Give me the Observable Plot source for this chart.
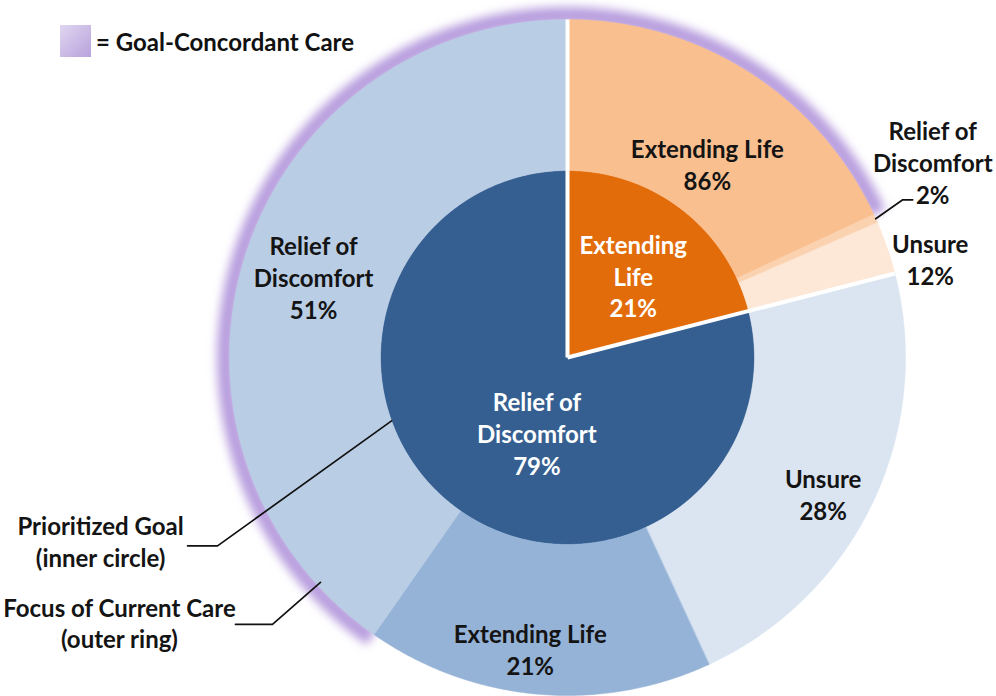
<!DOCTYPE html>
<html>
<head>
<meta charset="utf-8">
<script src="https://cdn.jsdelivr.net/npm/d3@7"></script>
<script src="https://cdn.jsdelivr.net/npm/@observablehq/plot@0.6"></script>
<style>
  html, body { margin: 0; padding: 0; background: #fff; }
  #wrap { position: relative; width: 996px; height: 696px; font-family: Lato, "Open Sans", sans-serif; }
  #legend { position: absolute; left: 60px; top: 25px; display: flex; align-items: center; font-weight: 700; font-size: 24px; color: #111; z-index: 2; }
  #legend .sw { width: 31px; height: 32px; background: linear-gradient(135deg, #e0d6f0, #b8a2dc); margin-right: 5px; }
  svg { display: block; }
</style>
</head>
<body>
<div id="wrap">
  <div id="legend"><span class="sw"></span><span>= Goal-Concordant Care</span></div>
</div>
<script>
// ---------------- data ----------------
const innerGoals  = ["Extending Life", "Relief of Discomfort"];   // prioritized goal (inner circle)
const innerShares = [21, 79];                                      // % of patients

const outerGoal   = ["Extending Life", "Extending Life", "Extending Life",
                     "Relief of Discomfort", "Relief of Discomfort", "Relief of Discomfort"];
const outerFocus  = ["Extending Life", "Relief of Discomfort", "Unsure",
                     "Unsure", "Extending Life", "Relief of Discomfort"];   // focus of current care (outer ring)
const outerShares = [86, 2, 12, 28, 21, 51];                        // % within prioritized goal

const legendLabel = "= Goal-Concordant Care";
const noteGoal  = "Prioritized Goal\n(inner circle)";
const noteFocus = "Focus of Current Care\n(outer ring)";

// ---------------- styles / layout ----------------
const innerColor = {"Extending Life": "#e36c0a", "Relief of Discomfort": "#365f91"};
const outerColor = {
  "Extending Life|Extending Life": "#fabf8f",
  "Extending Life|Relief of Discomfort": "#fbd2b0",
  "Extending Life|Unsure": "#fde7d6",
  "Relief of Discomfort|Unsure": "#dbe5f1",
  "Relief of Discomfort|Extending Life": "#95b3d7",
  "Relief of Discomfort|Relief of Discomfort": "#b9cde5"
};
const R_IN = 187, R_OUT = 338;
const FONT = "Lato, 'Open Sans', sans-serif";

const rad = a => a * Math.PI / 180;
const pol = (a, r) => [r * Math.sin(rad(a)), r * Math.cos(rad(a))];

// angles (degrees clockwise from 12 o'clock)
const inner = [];
{
  let acc = 0;
  innerGoals.forEach((g, i) => {
    const span = innerShares[i] / 100 * 360;
    inner.push({goal: g, share: innerShares[i], a0: acc, a1: acc + span});
    acc += span;
  });
}
const outer = [];
{
  const acc = {};
  outerGoal.forEach((g, i) => {
    const parent = inner.find(d => d.goal === g);
    const start = acc[g] ?? parent.a0;
    const span = (parent.a1 - parent.a0) * outerShares[i] / 100;
    outer.push({goal: g, focus: outerFocus[i], share: outerShares[i], a0: start, a1: start + span,
                concordant: g === outerFocus[i]});
    acc[g] = start + span;
  });
}

function arcPoly(id, a0, a1, r0, r1, color) {
  const n = Math.max(2, Math.ceil((a1 - a0) / 0.4) + 1);
  const pts = [];
  for (let i = 0; i < n; i++) { const [x, y] = pol(a0 + (a1 - a0) * i / (n - 1), r1); pts.push({id, x, y, color}); }
  if (r0 === 0) pts.push({id, x: 0, y: 0, color});
  else for (let i = n - 1; i >= 0; i--) { const [x, y] = pol(a0 + (a1 - a0) * i / (n - 1), r0); pts.push({id, x, y, color}); }
  return pts;
}
function arcLine(id, a0, a1, r) {
  const n = Math.max(2, Math.ceil((a1 - a0) / 0.4) + 1);
  return d3.range(n).map(i => { const [x, y] = pol(a0 + (a1 - a0) * i / (n - 1), r); return {id, x, y}; });
}

const slices = [
  ...inner.flatMap((d, i) => arcPoly("in" + i, d.a0, d.a1, 0, R_IN, innerColor[d.goal])),
  ...outer.flatMap((d, i) => arcPoly("out" + i, d.a0, d.a1, R_IN, R_OUT, outerColor[d.goal + "|" + d.focus]))
];
const glow = outer.filter(d => d.concordant).flatMap((d, i) => arcLine("g" + i, d.a0, d.a1, R_OUT + 4));
const separators = inner.map(d => { const [x2, y2] = pol(d.a0, R_OUT); return {x1: 0, y1: 0, x2, y2}; });

// label text + placement nudges (pixels)
const wrapName = (name, ring) =>
  name === "Relief of Discomfort" ? "Relief of\nDiscomfort" : (ring === "in" ? name.replace(" ", "\n") : name);
const nudge = {
  "in|Extending Life": {r: 104, dx: 2, dy: 0},
  "in|Relief of Discomfort": {r: 94, dx: 27, dy: 1},
  "out|Extending Life|Extending Life": {r: 262, dx: -1, dy: 27},
  "out|Extending Life|Relief of Discomfort": {r: R_OUT, dx: 57, dy: -57},
  "out|Extending Life|Unsure": {r: R_OUT, dx: 43, dy: 11},
  "out|Relief of Discomfort|Unsure": {r: 262, dx: 19, dy: 24},
  "out|Relief of Discomfort|Extending Life": {r: 262, dx: -14, dy: 30},
  "out|Relief of Discomfort|Relief of Discomfort": {r: 262, dx: -4, dy: -2}
};
function place(a, nd) { const [x, y] = pol(a, nd.r); return {x: x + nd.dx, y: y - nd.dy}; }
const innerLabels = inner.map(d => ({...place((d.a0 + d.a1) / 2, nudge["in|" + d.goal]),
  text: wrapName(d.goal, "in") + "\n" + d.share + "%"}));
const outerLabels = outer.map(d => ({...place((d.a0 + d.a1) / 2, nudge["out|" + d.goal + "|" + d.focus]),
  text: wrapName(d.focus, "out") + "\n" + d.share + "%"}));

// annotation leaders: tip on the chart + offsets in pixels (dx right, dy down)
const rd2 = outer[1];
const notes = [
  {id: "goal", text: noteGoal, tip: pol(250.2, R_IN), elbow: [-174, 125], end: [-204, 125], label: [-291, 120]},
  {id: "focus", text: noteFocus, tip: pol(227.7, R_OUT - 4), elbow: [-48, 42], end: [-85, 42], label: [-201, 40]},
  {id: "rd2", text: null, tip: pol((rd2.a0 + rd2.a1) / 2, R_OUT), elbow: [27, -19], end: [37, -19], label: null}
];
const off = (tip, o) => ({x: tip[0] + o[0], y: tip[1] - o[1]});
const leaders = notes.flatMap(n => [
  {id: n.id, x: n.tip[0], y: n.tip[1]},
  {id: n.id, ...off(n.tip, n.elbow)},
  {id: n.id, ...off(n.tip, n.end)}
]);
const noteLabels = notes.filter(n => n.text).map(n => ({...off(n.tip, n.label), text: n.text}));

const textOpts = {x: "x", y: "y", text: "text", fontSize: 24, fontWeight: 700, fontFamily: FONT,
                  lineHeight: 1.33, lineAnchor: "middle", textAnchor: "middle"};

const chart = Plot.plot({
  width: 996, height: 696, margin: 0,
  x: {domain: [-567, 429], axis: null},
  y: {domain: [-339, 357], axis: null},
  color: {type: "identity"},
  style: {background: "transparent"},
  marks: [
    Plot.line(glow, {x: "x", y: "y", z: "id", stroke: "#b89ede", strokeWidth: 17, strokeLinecap: "butt"}),
    Plot.line(slices, {x: "x", y: "y", z: "id", fill: "color", stroke: "color", strokeWidth: 0.5, curve: "linear-closed"}),
    Plot.link(separators, {x1: "x1", y1: "y1", x2: "x2", y2: "y2", stroke: "white", strokeWidth: 4}),
    Plot.line(leaders, {x: "x", y: "y", z: "id", stroke: "#111", strokeWidth: 1.7}),
    Plot.text(innerLabels, {...textOpts, fill: "white"}),
    Plot.text(outerLabels, {...textOpts, fill: "#141414"}),
    Plot.text(noteLabels, {...textOpts, fill: "#141414"})
  ]
});

// soft glow for goal-concordant segments
const svg = d3.select(chart);
const defs = svg.insert("defs", ":first-child");
defs.append("filter").attr("id", "glowBlur").attr("x", "-20%").attr("y", "-20%").attr("width", "140%").attr("height", "140%")
  .append("feGaussianBlur").attr("stdDeviation", 5);
svg.select('g[aria-label="line"]').attr("filter", "url(#glowBlur)");

document.getElementById("wrap").appendChild(chart);
</script>
</body>
</html>
